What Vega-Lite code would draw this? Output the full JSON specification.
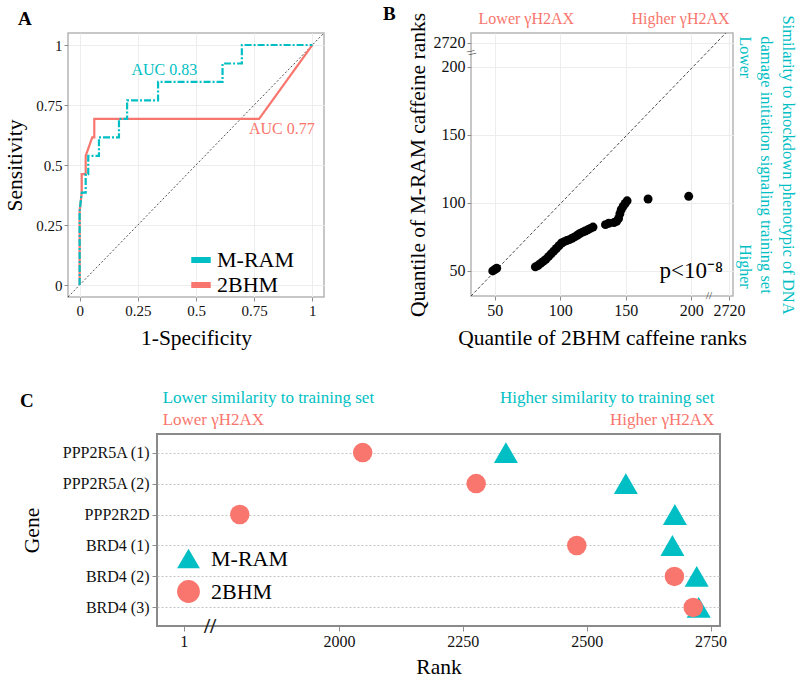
{
  "$schema": "https://vega.github.io/schema/vega-lite/v6.json",
  "background": "white",
  "padding": {"left": 4, "top": 4, "right": 2, "bottom": 0},
  "config": {
    "font": "Liberation Serif",
    "view": {"stroke": "#b5b5b5", "strokeWidth": 1.5},
    "axis": {
      "labelFont": "Liberation Serif", "titleFont": "Liberation Serif",
      "labelFontSize": 15, "titleFontSize": 21.5, "titleFontWeight": "normal",
      "labelColor": "#111111", "titleColor": "#000000",
      "tickColor": "#8c8c8c", "tickSize": 4, "domain": false,
      "gridColor": "#ededed", "labelPadding": 2, "titlePadding": 9,
      "labelFlush": false, "labelOverlap": false
    },
    "legend": {"labelFont": "Liberation Serif", "labelColor": "#000000"},
    "title": {"font": "Liberation Serif", "color": "#000000"},
    "text": {"font": "Liberation Serif"}
  },
  "datasets": {
    "diagA": [{"x0": -0.05, "y0": -0.05, "x1": 1.05, "y1": 1.05}],
    "roc": [
      {"method": "2BHM", "i": 0, "fpr": 0, "tpr": 0},
      {"method": "2BHM", "i": 1, "fpr": 0, "tpr": 0.308},
      {"method": "2BHM", "i": 2, "fpr": 0.009, "tpr": 0.385},
      {"method": "2BHM", "i": 3, "fpr": 0.009, "tpr": 0.462},
      {"method": "2BHM", "i": 4, "fpr": 0.026, "tpr": 0.462},
      {"method": "2BHM", "i": 5, "fpr": 0.026, "tpr": 0.538},
      {"method": "2BHM", "i": 6, "fpr": 0.054, "tpr": 0.615},
      {"method": "2BHM", "i": 7, "fpr": 0.063, "tpr": 0.615},
      {"method": "2BHM", "i": 8, "fpr": 0.063, "tpr": 0.692},
      {"method": "2BHM", "i": 9, "fpr": 0.771, "tpr": 0.692},
      {"method": "2BHM", "i": 10, "fpr": 1, "tpr": 1},
      {"method": "M-RAM", "i": 0, "fpr": 0, "tpr": 0},
      {"method": "M-RAM", "i": 1, "fpr": 0, "tpr": 0.308},
      {"method": "M-RAM", "i": 2, "fpr": 0.009, "tpr": 0.385},
      {"method": "M-RAM", "i": 3, "fpr": 0.026, "tpr": 0.385},
      {"method": "M-RAM", "i": 4, "fpr": 0.026, "tpr": 0.462},
      {"method": "M-RAM", "i": 5, "fpr": 0.037, "tpr": 0.462},
      {"method": "M-RAM", "i": 6, "fpr": 0.037, "tpr": 0.538},
      {"method": "M-RAM", "i": 7, "fpr": 0.083, "tpr": 0.538},
      {"method": "M-RAM", "i": 8, "fpr": 0.083, "tpr": 0.615},
      {"method": "M-RAM", "i": 9, "fpr": 0.169, "tpr": 0.615},
      {"method": "M-RAM", "i": 10, "fpr": 0.169, "tpr": 0.692},
      {"method": "M-RAM", "i": 11, "fpr": 0.204, "tpr": 0.692},
      {"method": "M-RAM", "i": 12, "fpr": 0.204, "tpr": 0.769},
      {"method": "M-RAM", "i": 13, "fpr": 0.337, "tpr": 0.769},
      {"method": "M-RAM", "i": 14, "fpr": 0.337, "tpr": 0.846},
      {"method": "M-RAM", "i": 15, "fpr": 0.614, "tpr": 0.846},
      {"method": "M-RAM", "i": 16, "fpr": 0.614, "tpr": 0.923},
      {"method": "M-RAM", "i": 17, "fpr": 0.697, "tpr": 0.923},
      {"method": "M-RAM", "i": 18, "fpr": 0.697, "tpr": 1},
      {"method": "M-RAM", "i": 19, "fpr": 1, "tpr": 1}
    ],
    "aucA": [
      {"method": "M-RAM", "x": 0.364, "y": 0.896, "label": "AUC 0.83"},
      {"method": "2BHM", "x": 0.869, "y": 0.649, "label": "AUC 0.77"}
    ],
    "diagB": [{"x0": 31.9, "y0": 31.6, "x1": 226.3, "y1": 224.7}],
    "qq": [
      {"bhm": 48.5, "mram": 50}, {"bhm": 50, "mram": 51}, {"bhm": 51.5, "mram": 52},
      {"bhm": 81, "mram": 53}, {"bhm": 83, "mram": 54}, {"bhm": 85, "mram": 55.5},
      {"bhm": 87, "mram": 57}, {"bhm": 89, "mram": 58.5}, {"bhm": 91, "mram": 60.5},
      {"bhm": 93, "mram": 62.5}, {"bhm": 95, "mram": 64.5}, {"bhm": 97, "mram": 66.5},
      {"bhm": 99, "mram": 68.5}, {"bhm": 101, "mram": 70.5}, {"bhm": 103, "mram": 71.5},
      {"bhm": 105, "mram": 72.3}, {"bhm": 107, "mram": 73}, {"bhm": 109, "mram": 74},
      {"bhm": 111, "mram": 75}, {"bhm": 113, "mram": 76.2}, {"bhm": 115, "mram": 77.5},
      {"bhm": 117, "mram": 78.5}, {"bhm": 119, "mram": 79.3}, {"bhm": 121, "mram": 80.2},
      {"bhm": 123, "mram": 81.2}, {"bhm": 125, "mram": 82.2},
      {"bhm": 134.5, "mram": 84}, {"bhm": 137, "mram": 85}, {"bhm": 141, "mram": 85.5},
      {"bhm": 143, "mram": 86.5}, {"bhm": 144.5, "mram": 88.5}, {"bhm": 145.5, "mram": 92},
      {"bhm": 146.5, "mram": 95}, {"bhm": 148, "mram": 97.5}, {"bhm": 149.5, "mram": 99.5},
      {"bhm": 151, "mram": 101.5}, {"bhm": 167, "mram": 102.8}, {"bhm": 198, "mram": 104.8}
    ],
    "pB": [{"x": 200, "y": 50, "label": "p<10⁻⁸"}],
    "breakBx": [{"x": 213.5, "y": 31.6, "label": "//"}],
    "breakBy": [{"x": 31.9, "y": 210, "label": "//"}],
    "helperB": [{"hx": 0, "hy": 0}, {"hx": 1, "hy": 1}],
    "chead": [
      {"pos": 0.01, "line": 1, "label": "Lower similarity to training set"},
      {"pos": 0.01, "line": 2, "label": "Lower γH2AX"},
      {"pos": 0.99, "line": 1, "label": "Higher similarity to training set"},
      {"pos": 0.99, "line": 2, "label": "Higher γH2AX"}
    ],
    "ranks": [
      {"method": "M-RAM", "gene": "PPP2R5A (1)", "rank": 2337},
      {"method": "M-RAM", "gene": "PPP2R5A (2)", "rank": 2579},
      {"method": "M-RAM", "gene": "PPP2R2D", "rank": 2678},
      {"method": "M-RAM", "gene": "BRD4 (1)", "rank": 2673},
      {"method": "M-RAM", "gene": "BRD4 (2)", "rank": 2722},
      {"method": "M-RAM", "gene": "BRD4 (3)", "rank": 2726},
      {"method": "2BHM", "gene": "PPP2R5A (1)", "rank": 2048},
      {"method": "2BHM", "gene": "PPP2R5A (2)", "rank": 2277},
      {"method": "2BHM", "gene": "PPP2R2D", "rank": 1800},
      {"method": "2BHM", "gene": "BRD4 (1)", "rank": 2480},
      {"method": "2BHM", "gene": "BRD4 (2)", "rank": 2677},
      {"method": "2BHM", "gene": "BRD4 (3)", "rank": 2715}
    ],
    "breakC": [{"rank": 1740, "gene": "BRD4 (3)", "label": "//"}],
    "blank": [{"k": 0}]
  },
  "vconcat": [
    {
      "hconcat": [
        {
          "width": 256, "height": 264,
          "title": {"text": "A", "anchor": "start", "frame": "group", "dx": -50, "fontSize": 19, "fontWeight": "bold", "offset": 4},
          "layer": [
            {
              "data": {"name": "diagA"},
              "mark": {"type": "rule", "strokeDash": [2, 2], "color": "#222222", "strokeWidth": 0.8},
              "encoding": {
                "x": {"field": "x0", "type": "quantitative", "scale": {"domain": [-0.05, 1.05], "nice": false, "zero": false},
                      "axis": {"title": "1-Specificity", "values": [0, 0.25, 0.5, 0.75, 1], "format": ".2~f", "grid": true}},
                "y": {"field": "y0", "type": "quantitative", "scale": {"domain": [-0.05, 1.05], "nice": false, "zero": false},
                      "axis": {"title": "Sensitivity", "values": [0, 0.25, 0.5, 0.75, 1], "format": ".2~f", "grid": true}},
                "x2": {"field": "x1"},
                "y2": {"field": "y1"}
              }
            },
            {
              "data": {"name": "roc"},
              "mark": {"type": "line", "strokeWidth": 2.2},
              "encoding": {
                "x": {"field": "fpr", "type": "quantitative"},
                "y": {"field": "tpr", "type": "quantitative"},
                "order": {"field": "i", "type": "quantitative"},
                "color": {"field": "method", "type": "nominal",
                          "scale": {"domain": ["M-RAM", "2BHM"], "range": ["#00BFC4", "#F8766D"]},
                          "legend": {"title": null, "orient": "none", "legendX": 120, "legendY": 214,
                                     "symbolType": "stroke", "symbolStrokeWidth": 6, "symbolSize": 380,
                                     "labelFontSize": 22, "rowPadding": 0, "labelOffset": 3,
                                     "encode": {"symbols": {"update": {"strokeDash": {"value": [1, 0]}}}}}},
                "strokeDash": {"field": "method", "type": "nominal",
                               "scale": {"domain": ["M-RAM", "2BHM"], "range": [[7, 2, 2, 2], [1, 0]]},
                               "legend": null}
              }
            },
            {
              "data": {"name": "aucA"},
              "transform": [{"filter": "datum.method === 'M-RAM'"}],
              "mark": {"type": "text", "fontSize": 16, "color": "#00BFC4"},
              "encoding": {
                "x": {"field": "x", "type": "quantitative"},
                "y": {"field": "y", "type": "quantitative"},
                "text": {"field": "label"}
              }
            },
            {
              "data": {"name": "aucA"},
              "transform": [{"filter": "datum.method === '2BHM'"}],
              "mark": {"type": "text", "fontSize": 16, "color": "#F8766D"},
              "encoding": {
                "x": {"field": "x", "type": "quantitative"},
                "y": {"field": "y", "type": "quantitative"},
                "text": {"field": "label"}
              }
            }
          ]
        },
        {
          "width": 262, "height": 263,
          "title": {"text": "B", "anchor": "start", "frame": "group", "dx": -88, "fontSize": 19, "fontWeight": "bold", "offset": -14},
          "layer": [
            {
              "layer": [
                {
                  "data": {"name": "diagB"},
                  "mark": {"type": "rule", "strokeDash": [3, 2], "color": "#333333", "strokeWidth": 0.9},
                  "encoding": {
                    "x": {"field": "x0", "type": "quantitative", "scale": {"domain": [31.9, 231.8], "nice": false, "zero": false},
                          "axis": {"title": "Quantile of 2BHM caffeine ranks", "values": [50, 100, 150, 200, 228.8],
                                   "labelExpr": "datum.value > 220 ? '2720' : format(datum.value, 'd')", "labelFontSize": 16, "grid": true}},
                    "y": {"field": "y0", "type": "quantitative", "scale": {"domain": [31.6, 224.7], "nice": false, "zero": false},
                          "axis": {"title": "Quantile of M-RAM caffeine ranks", "values": [50, 100, 150, 200, 217.4],
                                   "labelExpr": "datum.value > 210 ? '2720' : format(datum.value, 'd')", "labelFontSize": 16, "grid": true, "titlePadding": 4}},
                    "x2": {"field": "x1"},
                    "y2": {"field": "y1"}
                  }
                },
                {
                  "data": {"name": "qq"},
                  "mark": {"type": "circle", "size": 80, "color": "#000000", "opacity": 1},
                  "encoding": {
                    "x": {"field": "bhm", "type": "quantitative"},
                    "y": {"field": "mram", "type": "quantitative"}
                  }
                },
                {
                  "data": {"name": "pB"},
                  "mark": {"type": "text", "fontSize": 23, "align": "center", "baseline": "middle", "color": "#000000"},
                  "encoding": {
                    "x": {"field": "x", "type": "quantitative"},
                    "y": {"field": "y", "type": "quantitative"},
                    "text": {"field": "label"}
                  }
                },
                {
                  "data": {"name": "breakBx"},
                  "mark": {"type": "text", "fontSize": 11, "align": "center", "baseline": "middle", "color": "#333333"},
                  "encoding": {
                    "x": {"field": "x", "type": "quantitative"},
                    "y": {"field": "y", "type": "quantitative"},
                    "text": {"field": "label"}
                  }
                },
                {
                  "data": {"name": "breakBy"},
                  "mark": {"type": "text", "fontSize": 11, "align": "center", "baseline": "middle", "color": "#333333", "angle": 60},
                  "encoding": {
                    "x": {"field": "x", "type": "quantitative"},
                    "y": {"field": "y", "type": "quantitative"},
                    "text": {"field": "label"}
                  }
                }
              ]
            },
            {
              "data": {"name": "helperB"},
              "mark": {"type": "point", "opacity": 0},
              "encoding": {
                "x": {"field": "hx", "type": "quantitative", "scale": {"domain": [0, 1], "nice": false},
                      "axis": {"orient": "top", "title": null, "values": [0.027, 0.985],
                               "labelExpr": "datum.value < 0.5 ? 'Lower γH2AX' : 'Higher γH2AX'",
                               "labelAlign": {"condition": {"test": "datum.value < 0.5", "value": "left"}, "value": "right"},
                               "labelColor": "#F8766D", "labelFontSize": 16, "ticks": false, "tickSize": 0, "grid": false, "labelPadding": 7}},
                "y": {"field": "hy", "type": "quantitative", "scale": {"domain": [0, 1], "nice": false},
                      "axis": {"orient": "right",
                               "title": ["Similarity to knockdown phenotypic of DNA", "damage initiation signaling training set"],
                               "titleColor": "#00BFC4", "titleFontSize": 16.5, "titleLineHeight": 22,
                               "values": [0.989, 0.03],
                               "labelExpr": "datum.value > 0.5 ? 'Lower' : 'Higher'",
                               "labelAngle": 90,
                               "labelAlign": {"condition": {"test": "datum.value > 0.5", "value": "left"}, "value": "right"},
                               "labelBaseline": "bottom",
                               "labelColor": "#00BFC4", "labelFontSize": 16, "ticks": false, "tickSize": 0, "grid": false,
                               "labelPadding": 3, "titlePadding": 5}}
              }
            }
          ],
          "resolve": {"scale": {"x": "independent", "y": "independent"}, "axis": {"x": "independent", "y": "independent"}}
        }
      ],
      "spacing": 56,
      "resolve": {"legend": {"color": "independent"}}
    },
    {
      "hconcat": [
        {
          "width": 1, "height": 48,
          "view": {"stroke": null},
          "title": {"text": "C", "anchor": "start", "frame": "group", "dx": -48, "fontSize": 19, "fontWeight": "bold", "offset": -26},
          "data": {"name": "blank"},
          "mark": {"type": "rule", "opacity": 0},
          "encoding": {}
        },
        {
          "vconcat": [
            {
              "width": 563, "height": 48,
              "view": {"stroke": null},
              "data": {"name": "chead"},
              "encoding": {
                "x": {"field": "pos", "type": "quantitative", "scale": {"domain": [0, 1], "nice": false}, "axis": null},
                "y": {"field": "line", "type": "ordinal", "scale": {"type": "point", "padding": 0.6}, "axis": null},
                "text": {"field": "label"},
                "color": {"condition": {"test": "datum.line === 1", "value": "#00BFC4"}, "value": "#F8766D"}
              },
              "layer": [
                {"transform": [{"filter": "datum.pos < 0.5"}], "mark": {"type": "text", "align": "left", "baseline": "middle", "fontSize": 17}},
                {"transform": [{"filter": "datum.pos > 0.5"}], "mark": {"type": "text", "align": "right", "baseline": "middle", "fontSize": 17}}
              ]
            },
            {
              "width": 563, "height": 192,
              "view": {"stroke": "#8a8a8a", "strokeWidth": 2},
              "layer": [
                {
                  "data": {"name": "ranks"},
                  "mark": {"type": "point", "filled": true, "opacity": 1, "strokeWidth": 0},
                  "encoding": {
                    "x": {"field": "rank", "type": "quantitative", "scale": {"domain": [1633, 2769], "nice": false, "zero": false},
                          "axis": {"title": "Rank", "values": [1687, 2000, 2250, 2500, 2750],
                                   "labelExpr": "datum.value < 1800 ? '1' : format(datum.value, 'd')",
                                   "grid": false, "labelFontSize": 16, "tickSize": 5, "labelPadding": 2, "titlePadding": 7}},
                    "y": {"field": "gene", "type": "nominal",
                          "sort": ["PPP2R5A (1)", "PPP2R5A (2)", "PPP2R2D", "BRD4 (1)", "BRD4 (2)", "BRD4 (3)"],
                          "scale": {"type": "point", "padding": 0.6},
                          "axis": {"title": "Gene", "grid": true, "gridDash": [2, 2], "gridColor": "#c4c4c4",
                                   "labelFontSize": 16, "tickSize": 5, "labelPadding": 3, "titlePadding": 18}},
                    "color": {"field": "method", "type": "nominal",
                              "scale": {"domain": ["M-RAM", "2BHM"], "range": ["#00BFC4", "#F8766D"]},
                              "legend": {"title": null, "orient": "none", "legendX": 19, "legendY": 112,
                                         "symbolSize": 520, "labelFontSize": 22, "rowPadding": 9, "labelOffset": 10}},
                    "shape": {"field": "method", "type": "nominal",
                              "scale": {"domain": ["M-RAM", "2BHM"], "range": ["triangle-up", "circle"]},
                              "legend": {"title": null, "orient": "none", "legendX": 19, "legendY": 112,
                                         "symbolSize": 520, "labelFontSize": 22, "rowPadding": 9, "labelOffset": 10}},
                    "size": {"field": "method", "type": "nominal",
                             "scale": {"domain": ["M-RAM", "2BHM"], "range": [576, 380]}, "legend": null}
                  }
                },
                {
                  "data": {"name": "breakC"},
                  "mark": {"type": "text", "fontSize": 22, "fontWeight": "bold", "dy": 19, "align": "center", "baseline": "middle", "color": "#222222"},
                  "encoding": {
                    "x": {"field": "rank", "type": "quantitative"},
                    "y": {"field": "gene", "type": "nominal",
                          "sort": ["PPP2R5A (1)", "PPP2R5A (2)", "PPP2R2D", "BRD4 (1)", "BRD4 (2)", "BRD4 (3)"]},
                    "text": {"field": "label"}
                  }
                }
              ]
            }
          ],
          "spacing": 0,
          "resolve": {"legend": {"color": "independent", "shape": "independent"}}
        }
      ],
      "spacing": -49,
      "resolve": {"legend": {"color": "independent", "shape": "independent"}}
    }
  ],
  "spacing": 34,
  "resolve": {
    "scale": {"color": "independent", "shape": "independent", "strokeDash": "independent", "size": "independent"},
    "legend": {"color": "independent", "shape": "independent"}
  }
}
